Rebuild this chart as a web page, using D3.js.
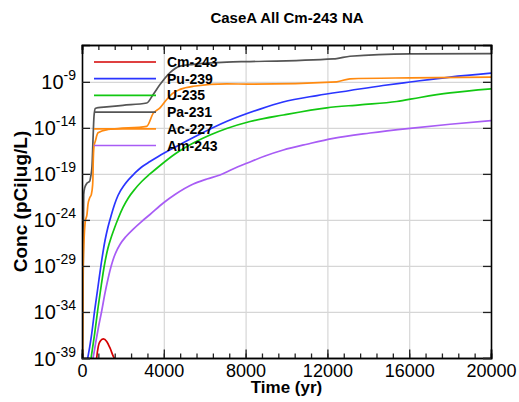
<!DOCTYPE html>
<html>
<head>
<meta charset="utf-8">
<script src="https://cdn.jsdelivr.net/npm/d3@7"></script>
<style>
  html, body { margin: 0; padding: 0; background: #fff; }
  svg { display: block; font-family: "Liberation Sans", Arial, sans-serif; }
</style>
</head>
<body>
<svg id="chart" width="519" height="402"></svg>
<script>
// Concentration histories, time in years, concentration as log10(pCi|ug/L)
const cm243Time = [650, 719, 797, 880, 1042, 1208, 1369, 1531, 1663, 1750];
const cm243Log  = [-41, -39.0, -37.74, -37.2, -36.93, -37.2, -37.91, -38.83, -39.4, -40.5];

const pu239Time = [196, 293, 455, 621, 782, 944, 1027, 1125, 1271, 1433, 1599, 1760, 2103, 2592, 2919, 3325, 3731, 4548, 5443, 7090, 8704, 9829, 11492, 13105, 14719, 16039, 17995, 20000];
const pu239Log  = [-39.87, -38.86, -36.69, -33.79, -31.26, -28.68, -27.49, -26.24, -24.77, -23.47, -22.27, -21.35, -20.10, -18.90, -18.25, -17.66, -17.11, -16.10, -15.05, -13.29, -11.96, -11.19, -10.49, -9.94, -9.40, -9.02, -8.48, -8.06];

const u235Time = [377, 455, 621, 782, 944, 1076, 1271, 1433, 1599, 1760, 2005, 2264, 2592, 2919, 3325, 3731, 4548, 5443, 6259, 7076, 8215, 9844, 11966, 13594, 15389, 16528, 17995, 20000];
const u235Log  = [-40.09, -38.86, -36.32, -33.57, -31.07, -29.17, -27.05, -25.86, -24.82, -23.90, -22.65, -21.62, -20.64, -19.83, -19.01, -18.25, -16.84, -15.65, -14.78, -14.07, -13.31, -12.60, -11.82, -11.50, -11.14, -10.70, -10.21, -9.77];

const pa231Time = [0, 40, 70, 83, 132, 250, 377, 425, 489, 538, 587, 650, 800, 1208, 2000, 3164, 3472, 3814, 4303, 4792, 5443, 7076, 8215, 12300, 12455, 13105, 16039, 20000];
const pa231Log  = [-48, -36, -26, -21.25, -20.5, -20.0, -19.8, -19.3, -18.2, -15.3, -12.74, -11.9, -11.8, -11.72, -11.55, -11.3, -10.4, -9.3, -8.0, -7.3, -7.1, -6.85, -6.8, -6.5, -6.47, -6.22, -5.96, -5.93];

const ac227Time = [20, 50, 98, 161, 244, 293, 377, 455, 520, 535, 545, 587, 650, 782, 1271, 1760, 3164, 3487, 3814, 4142, 4465, 4792, 5443, 7076, 8215, 12455, 13105, 16039, 20000];
const ac227Log  = [-45, -30, -26.3, -24.15, -23.4, -22.3, -21.6, -21.25, -20.2, -19.4, -18.0, -16.0, -15.46, -14.54, -14.18, -14.08, -13.83, -12.4, -11.83, -10.92, -10.2, -9.82, -9.48, -9.22, -9.25, -9.0, -8.67, -8.57, -8.5];

const am243Time = [440, 538, 685, 807, 954, 1125, 1271, 1369, 1516, 1663, 1858, 2152, 2509, 2885, 3325, 3976, 4548, 5443, 6113, 6748, 7384, 8054, 8949, 9844, 11051, 12289, 14083, 16039, 17995, 20000];
const am243Log  = [-39.87, -39.0, -37.15, -35.63, -34.0, -31.94, -30.42, -29.50, -28.35, -27.49, -26.67, -25.80, -24.99, -24.23, -23.41, -22.16, -21.24, -20.10, -19.56, -19.12, -18.47, -17.85, -17.06, -16.41, -15.75, -15.14, -14.56, -14.05, -13.61, -13.21];

const seriesNames  = ["Cm-243", "Pu-239", "U-235", "Pa-231", "Ac-227", "Am-243"];
const seriesColors = ["#d40000", "#2a35ff", "#12c812", "#555555", "#ff8a10", "#a85cf5"];
const seriesTimes  = [cm243Time, pu239Time, u235Time, pa231Time, ac227Time, am243Time];
const seriesLogs   = [cm243Log, pu239Log, u235Log, pa231Log, ac227Log, am243Log];

const xMajorTicks = [0, 4000, 8000, 12000, 16000, 20000];
const xMinorTicks = d3.range(0, 20001, 800);
const yTickExps   = [-39, -34, -29, -24, -19, -14, -9];

const W = 519, H = 402;
const m = { top: 45, right: 28, bottom: 44, left: 82 };
const iw = W - m.left - m.right, ih = H - m.top - m.bottom;

const svg = d3.select("#chart");
const x = d3.scaleLinear().domain([0, 20000]).range([0, iw]);
const y = d3.scaleLog().domain([1e-39, 1e-5]).range([ih, 0]);

const g = svg.append("g").attr("transform", `translate(${m.left},${m.top})`);

// grid
g.append("g").attr("transform", `translate(0,${ih})`)
  .call(d3.axisBottom(x).tickValues(xMajorTicks.slice(1, -1)).tickSize(-ih).tickFormat(""))
  .call(s => s.select(".domain").remove())
  .call(s => s.selectAll("line").attr("stroke", "#d6d6d6").attr("stroke-width", 1.2));
g.append("g")
  .call(d3.axisLeft(y).tickValues(yTickExps.slice(1).map(e => Math.pow(10, e))).tickSize(-iw).tickFormat(""))
  .call(s => s.select(".domain").remove())
  .call(s => s.selectAll("line").attr("stroke", "#d6d6d6").attr("stroke-width", 1.2));

// curves
g.append("clipPath").attr("id", "plotClip")
  .append("rect").attr("width", iw).attr("height", ih);
const line = d3.line()
  .x(d => x(d[0]))
  .y(d => y(Math.pow(10, d[1])))
  .curve(d3.curveMonotoneX);
const curves = g.append("g").attr("clip-path", "url(#plotClip)");
seriesNames.forEach((name, i) => {
  const pts = seriesTimes[i].map((t, j) => [t, seriesLogs[i][j]]);
  curves.append("path")
    .datum(pts)
    .attr("fill", "none")
    .attr("stroke", seriesColors[i])
    .attr("stroke-width", 1.7)
    .attr("stroke-linejoin", "round")
    .attr("d", line);
});

// axes with inward ticks
const axisStyle = s => {
  s.select(".domain").attr("stroke", "#000").attr("stroke-width", 1.6);
  s.selectAll(".tick line").attr("stroke", "#222").attr("stroke-width", 1.3);
};
// minor x ticks
g.append("g").attr("transform", `translate(0,${ih})`)
  .call(d3.axisBottom(x).tickValues(xMinorTicks).tickSize(-4.5).tickFormat("")).call(axisStyle);
g.append("g")
  .call(d3.axisTop(x).tickValues(xMinorTicks).tickSize(-5).tickFormat("")).call(axisStyle);
// major x ticks
const xb = g.append("g").attr("transform", `translate(0,${ih})`)
  .call(d3.axisBottom(x).tickValues(xMajorTicks).tickSize(-8.5).tickPadding(6).tickFormat(d3.format("d")))
  .call(axisStyle);
xb.selectAll(".tick text").attr("font-size", 18).attr("fill", "#000")
  .attr("font-family", "Liberation Sans, Arial, sans-serif").attr("dy", "0.72em");
g.append("g")
  .call(d3.axisTop(x).tickValues(xMajorTicks).tickSize(-9).tickFormat("")).call(axisStyle);

// y axes
const yl = g.append("g")
  .call(d3.axisLeft(y).tickValues(yTickExps.map(e => Math.pow(10, e))).tickSize(-8).tickFormat(""))
  .call(axisStyle);
yl.selectAll(".tick").each(function(d) {
  const e = Math.round(Math.log10(d));
  const t = d3.select(this).append("text")
    .attr("x", -6).attr("y", 7)
    .attr("text-anchor", "end").attr("fill", "#000")
    .attr("font-family", "Liberation Sans, Arial, sans-serif");
  t.append("tspan").attr("font-size", 20).text("10");
  t.append("tspan").attr("font-size", 14).attr("dy", -9).text(String(e));
});
g.append("g").attr("transform", `translate(${iw},0)`)
  .call(d3.axisRight(y).tickValues(yTickExps.map(e => Math.pow(10, e))).tickSize(-8).tickFormat(""))
  .call(axisStyle);

// titles
svg.append("text").attr("x", 287).attr("y", 23).attr("text-anchor", "middle")
  .attr("font-size", 15).attr("font-weight", "bold").text("CaseA All Cm-243 NA");
svg.append("text").attr("x", m.left + iw / 2).attr("y", 393).attr("text-anchor", "middle")
  .attr("font-size", 17).attr("font-weight", "bold").text("Time (yr)");
svg.append("text").attr("transform", `translate(27,${m.top + ih / 2}) rotate(-90)`)
  .attr("text-anchor", "middle").attr("font-size", 19).attr("font-weight", "bold")
  .text("Conc (pCi|ug/L)");

// legend
const leg = svg.append("g").attr("transform", "translate(94,62)");
seriesNames.forEach((name, i) => {
  const row = leg.append("g").attr("transform", `translate(0,${i * 16.7})`);
  row.append("line").attr("x1", 0).attr("x2", 62).attr("y1", 0).attr("y2", 0)
    .attr("stroke", seriesColors[i]).attr("stroke-width", 1.7);
  row.append("text").attr("x", 73).attr("y", 5).attr("font-size", 14)
    .attr("font-weight", "bold").attr("fill", "#000").text(name);
});
</script>
</body>
</html>
